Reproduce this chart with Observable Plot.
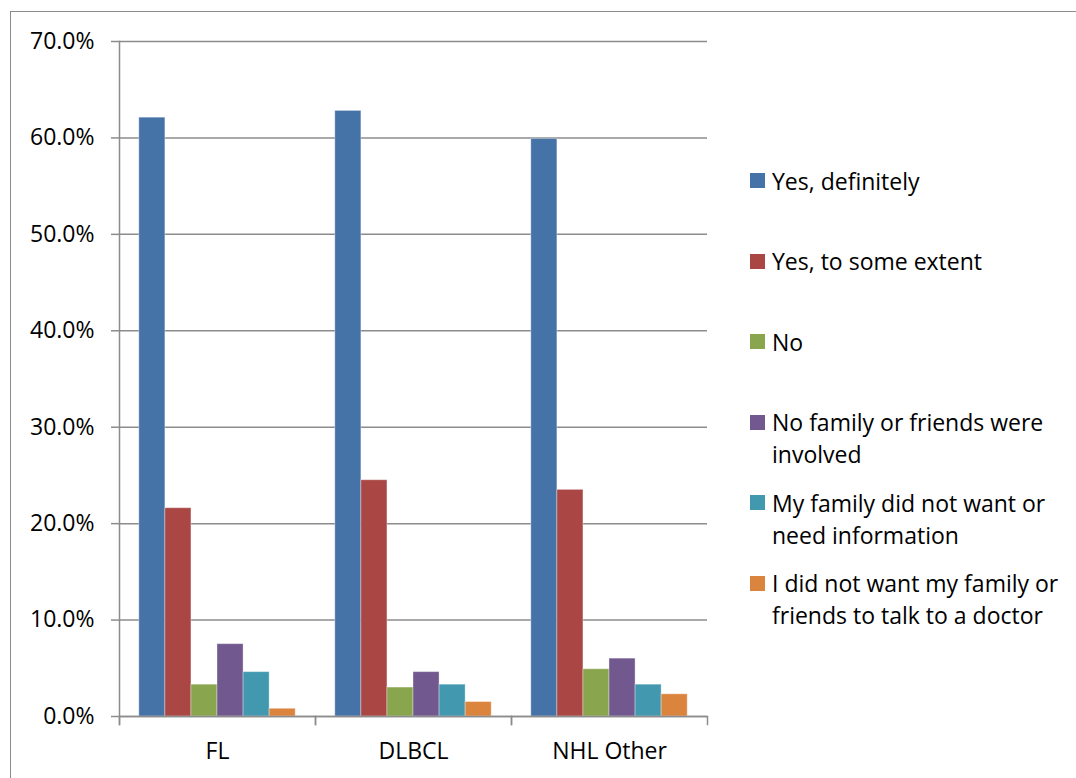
<!DOCTYPE html>
<html>
<head>
<meta charset="utf-8">
<script src="https://cdn.jsdelivr.net/npm/d3@7"></script>
<script src="https://cdn.jsdelivr.net/npm/@observablehq/plot@0.6"></script>
<style>
  html, body { margin: 0; padding: 0; background: #fff; overflow: hidden; }
  #wrap { position: relative; width: 1076px; height: 778px; font-family: "Open Sans", sans-serif; }
  #border { position: absolute; left: 10px; top: 11px; width: 1200px; height: 900px;
            border-left: 1.5px solid #8c8c8c; border-top: 1.5px solid #8c8c8c; }
  #chart { position: absolute; left: 0; top: 0; }
  #legend { position: absolute; left: 750px; top: 164.5px; display: grid; grid-auto-rows: 80.5px; }
  .item { display: flex; align-items: flex-start; font-size: 23px; line-height: 32px; color: #000; }
  .sw { width: 15px; height: 15px; margin-top: 8.5px; margin-right: 7px; flex: none; }
  .lab { max-width: 305px; }
</style>
</head>
<body>
<div id="wrap">
  <div id="border"></div>
  <div id="chart"></div>
  <div id="legend"></div>
</div>
<script>
const categories = ["FL", "DLBCL", "NHL Other"];
const series = [
  "Yes, definitely",
  "Yes, to some extent",
  "No",
  "No family or friends were involved",
  "My family did not want or need information",
  "I did not want my family or friends to talk to a doctor"
];
const colors = ["#4572A7", "#AA4643", "#89A54E", "#71588F", "#4198AF", "#DB843D"];

const yesDefinitely   = [62.1, 62.8, 59.9];
const yesSomeExtent   = [21.6, 24.5, 23.5];
const no              = [3.3, 3.0, 4.9];
const noFamily        = [7.5, 4.6, 6.0];
const familyNotWant   = [4.6, 3.3, 3.3];
const iDidNotWant     = [0.8, 1.5, 2.3];
const seriesValues = [yesDefinitely, yesSomeExtent, no, noFamily, familyNotWant, iDidNotWant];

const yTicks = [0, 10, 20, 30, 40, 50, 60, 70];

const data = [];
categories.forEach((c, ci) => {
  series.forEach((s, si) => data.push({category: c, series: s, value: seriesValues[si][ci]}));
});

const W = 1076, H = 778;
const mL = 118, mR = 369, mT = 41, mB = 62;
const plotH = H - mT - mB;
const gray = "#8c8c8c";

const chart = Plot.plot({
  width: W, height: H,
  marginLeft: mL, marginRight: mR, marginTop: mT, marginBottom: mB,
  style: {fontFamily: "'Open Sans', sans-serif", fontSize: "23px", color: "#000", background: "transparent"},
  fx: {domain: categories, padding: 0, label: null},
  x: {domain: series, paddingInner: 0, paddingOuter: 0.76, round: false, axis: null},
  y: {domain: [0, 70], label: null},
  color: {domain: series, range: colors},
  marks: [
    Plot.gridY(yTicks, {stroke: gray, strokeOpacity: 1, strokeWidth: 1.5}),
    Plot.barY(data, {fx: "category", x: "series", y: "value", fill: "series",
                     stroke: "#ffffff", strokeOpacity: 0.35, strokeWidth: 1}),
    Plot.ruleY([0], {stroke: gray, strokeWidth: 1.5}),
    Plot.frame({anchor: "left", facetAnchor: "left", stroke: gray, strokeWidth: 1.5, insetBottom: -8}),
    Plot.frame({anchor: "left", stroke: gray, strokeWidth: 1.5, insetTop: plotH, insetBottom: -8}),
    Plot.frame({anchor: "right", stroke: gray, strokeWidth: 1.5, insetTop: plotH, insetBottom: -8}),
    Plot.axisY(yTicks, {tickSize: 8, tickPadding: 17, stroke: gray, strokeWidth: 1.5, fill: "#000",
                        tickFormat: d => d.toFixed(1) + "%", label: null, fontSize: 23}),
    Plot.axisFx({anchor: "bottom", tickSize: 0, tickPadding: 26, label: null, fill: "#000", fontSize: 23})
  ]
});
document.getElementById("chart").appendChild(chart);

const legend = document.getElementById("legend");
series.forEach((s, i) => {
  const item = document.createElement("div");
  item.className = "item";
  const sw = document.createElement("div");
  sw.className = "sw";
  sw.style.background = colors[i];
  const lab = document.createElement("div");
  lab.className = "lab";
  lab.textContent = s;
  item.appendChild(sw);
  item.appendChild(lab);
  legend.appendChild(item);
});
</script>
</body>
</html>
